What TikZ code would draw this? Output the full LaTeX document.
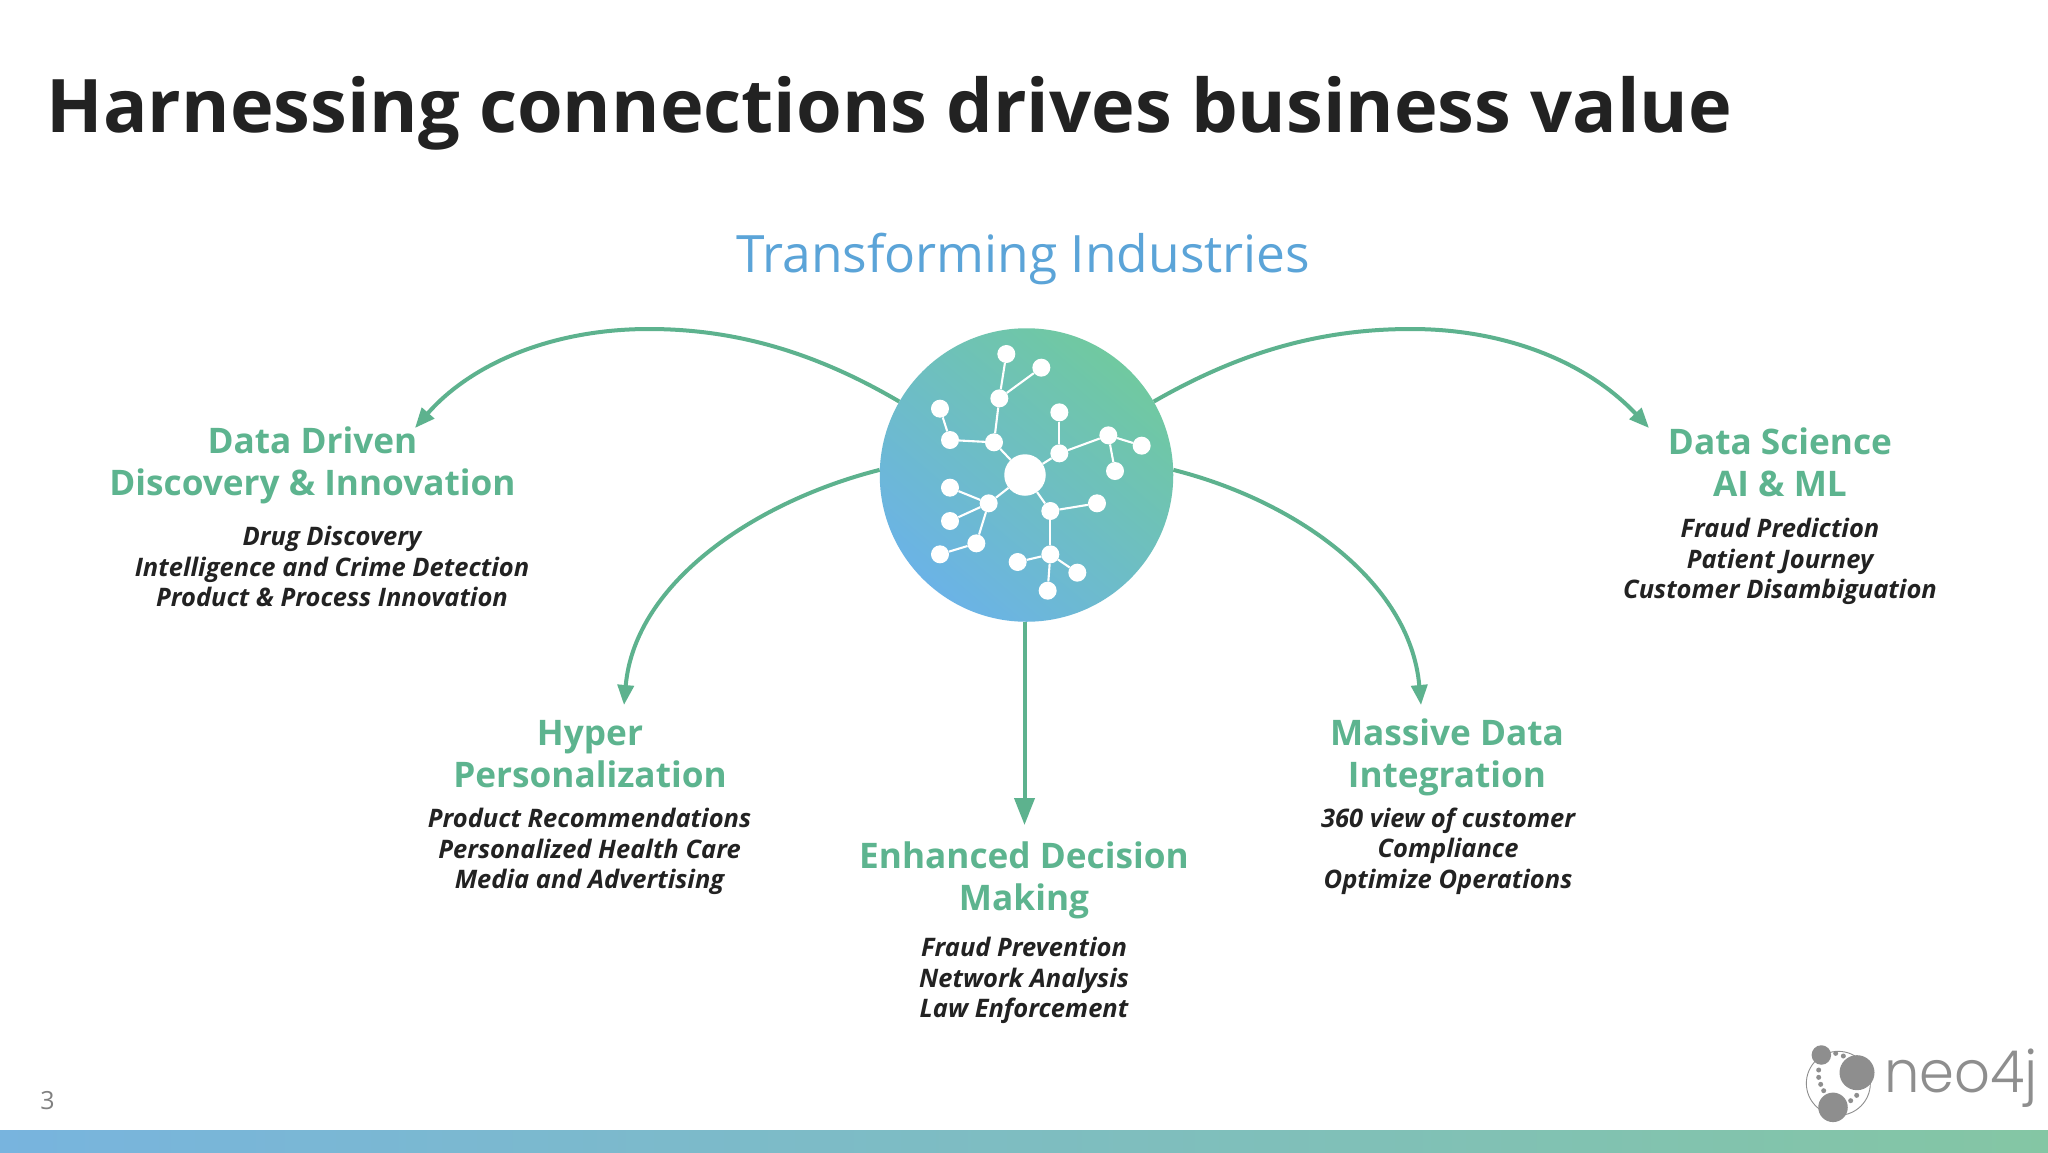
\documentclass[tikz,border=0pt]{standalone}
\usepackage{fontspec}
\setmainfont{Open Sans}
\newfontfamily\logofont{Poppins Light}
\usetikzlibrary{arrows.meta}
\definecolor{arrowgreen}{HTML}{5DB28E}
\definecolor{headgreen}{HTML}{5DB48F}
\definecolor{titleink}{HTML}{222222}
\definecolor{subblue}{HTML}{5BA4D8}
\definecolor{blueend}{HTML}{6BB3E6}
\definecolor{greenend}{HTML}{70C9A0}
\definecolor{barblue}{HTML}{78B4DE}
\definecolor{bargreen}{HTML}{84C6A4}
\definecolor{logogray}{HTML}{8E8E8E}
\tikzset{
  link/.style={draw=arrowgreen,line width=4pt,-{Triangle[length=20pt,width=16pt]}},
  downlink/.style={draw=arrowgreen,line width=4pt,-{Triangle[length=27pt,width=20pt]}},
  heading/.style={text=headgreen,font=\fontsize{35.2}{42}\selectfont\bfseries,align=center,inner sep=0pt},
  items/.style={text=titleink,font=\fontsize{25.5}{30.7}\selectfont\bfseries\itshape,align=center,inner sep=0pt},
  dotnode/.style={circle,fill=white,inner sep=0pt,minimum size=18pt},
  hubnode/.style={circle,fill=white,inner sep=0pt,minimum size=41.5pt},
  edge/.style={draw=white,line width=2.1pt},
  logodot/.style={circle,fill=logogray,inner sep=0pt,minimum size=5pt}
}
\begin{document}
\begin{tikzpicture}[x=1pt,y=-1pt]
\useasboundingbox (0,0) rectangle (2048,1152);
\fill[white] (0,0) rectangle (2048,1152);
% title
\node[anchor=center,inner sep=0pt,text=titleink,font=\fontsize{73.9}{80}\selectfont\bfseries] (title) at (889.5,113) {Harnessing connections drives business value};
\node[anchor=center,inner sep=0pt,text=subblue,font=\fontsize{51.5}{60}\selectfont] (sub) at (1023.5,259) {Transforming Industries};
% bottom bar
\shade[left color=barblue,right color=bargreen] (0,1130) rectangle (2048,1152);
\node[inner sep=0pt,text=gray,font=\fontsize{25}{26}\selectfont] (pagenum) at (47.5,1101) {3};
% central disc
\node[circle,minimum size=293.5pt,inner sep=0pt,shading=axis,left color=blueend,right color=greenend,shading angle=140] (disc) at (1026.5,475) {};
% connectors
\coordinate (endA) at (415,428);
\coordinate (endB) at (624,705);
\coordinate (endC) at (1024.5,825);
\coordinate (endD) at (1421,705);
\coordinate (endE) at (1649,428);
\draw[link] (disc.150) .. controls (820,355) and (740,329) .. (649,329) .. controls (550,329) and (470,365) .. (endA);
\draw[link] (disc.178) .. controls (760,500) and (635,580) .. (endB);
\draw[downlink] (endC |- disc.south) -- (endC);
\draw[link] (disc.2) .. controls (1293,500) and (1410,580) .. (endD);
\draw[link] (disc.30) .. controls (1235,355) and (1315,329) .. (1411,329) .. controls (1510,329) and (1590,365) .. (endE);
% network in the disc (zoom coordinates)
\begin{scope}[shift={(840,310)},x=0.33333pt,y=-0.33333pt]
\node[hubnode] (hub) at (555,495) {};
\node[dotnode] (a1) at (462,397) {};
\node[dotnode] (a2) at (478,265) {};
\node[dotnode] (a3) at (499,132) {};
\node[dotnode] (a4) at (604,173) {};
\node[dotnode] (a5) at (330,390) {};
\node[dotnode] (a6) at (300,296) {};
\node[dotnode] (b1) at (658,430) {};
\node[dotnode] (b2) at (658,307) {};
\node[dotnode] (b3) at (805,376) {};
\node[dotnode] (b4) at (905,407) {};
\node[dotnode] (b5) at (825,483) {};
\node[dotnode] (c1) at (631,603) {};
\node[dotnode] (c2) at (771,580) {};
\node[dotnode] (c3) at (631,733) {};
\node[dotnode] (c4) at (533,756) {};
\node[dotnode] (c5) at (712,788) {};
\node[dotnode] (c6) at (623,842) {};
\node[dotnode] (d1) at (446,580) {};
\node[dotnode] (d2) at (330,533) {};
\node[dotnode] (d3) at (330,633) {};
\node[dotnode] (d4) at (409,700) {};
\node[dotnode] (d5) at (300,733) {};
\foreach \p/\q in {hub/a1,a1/a2,a2/a3,a2/a4,a1/a5,a5/a6,hub/b1,b1/b2,b1/b3,b3/b4,b3/b5,hub/c1,c1/c2,c1/c3,c3/c4,c3/c5,c3/c6,hub/d1,d1/d2,d1/d3,d1/d4,d4/d5}
  \draw[edge] (\p) -- (\q);
\end{scope}
% labels
\node[heading] (h1) at (312.5,465) {Data Driven\\Discovery \& Innovation};
\node[items] (s1) at (332,566.5) {Drug Discovery\\Intelligence and Crime Detection\\Product \& Process Innovation};
\node[heading] (h2) at (590,754) {Hyper\\Personalization};
\node[items] (s2) at (589.5,851.5) {Product Recommendations\\Personalized Health Care\\Media and Advertising};
\node[heading] (h3) at (1024,880) {Enhanced Decision\\Making};
\node[items] (s3) at (1024,980.5) {Fraud Prevention\\Network Analysis\\Law Enforcement};
\node[heading] (h4) at (1447,757) {Massive Data\\Integration};
\node[items] (s4) at (1448,851) {360 view of customer\\Compliance\\Optimize Operations};
\node[heading] (h5) at (1780,462) {Data Science\\AI \& ML};
\node[items] (s5) at (1780,561.5) {Fraud Prediction\\Patient Journey\\Customer Disambiguation};
% logo (zoom coordinates)
\begin{scope}[shift={(1760,1020)},x=0.33333pt,y=-0.33333pt]
\node[circle,draw=logogray,line width=0.9pt,minimum size=64pt,inner sep=0pt] (ring) at (235,190) {};
\node[circle,fill=logogray,minimum size=35pt,inner sep=0pt] (bigc) at (291,158) {};
\node[circle,fill=logogray,minimum size=19.5pt,inner sep=0pt] (topc) at (184,105) {};
\node[circle,fill=logogray,minimum size=29.5pt,inner sep=0pt] (botc) at (219,262) {};
\foreach \i/\a/\b in {1/227/100,2/250/108,3/176/150,4/176/172,5/182/193,6/191/212,7/272/242,8/290/226}
  \node[logodot] (ld\i) at (\a,\b) {};
\node[anchor=base west,inner sep=0pt,text=logogray,font=\logofont\fontsize{58}{60}\selectfont] (logotext) at (372,218) {\scalebox{0.965}[1]{neo4j}};
\end{scope}
\end{tikzpicture}
\end{document}
